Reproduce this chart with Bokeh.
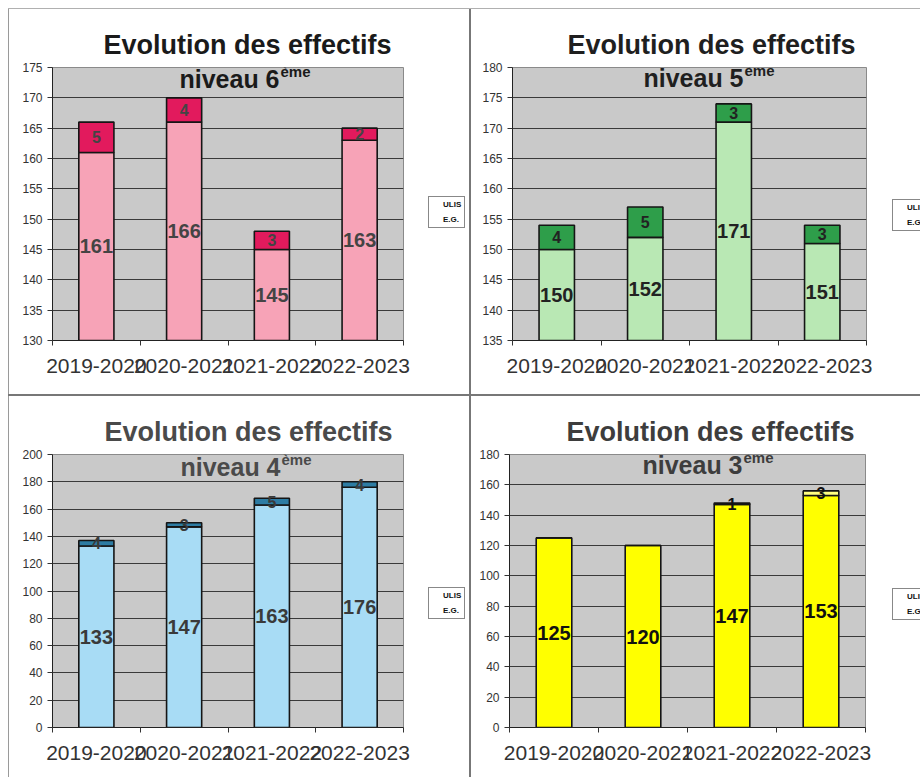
from bokeh.plotting import figure
from bokeh.models import (ColumnDataSource, Range1d, FixedTicker, LabelSet, Label,
                          Legend, LegendItem, Div, Title)
from bokeh.layouts import column, row
from bokeh.core.properties import value
from bokeh.embed import file_html
from bokeh.resources import INLINE

# ---------------- data ----------------
categories = ["2019-2020", "2020-2021", "2021-2022", "2022-2023"]
series_names = ["ULIS", "E.G."]

eg_6 = [161, 166, 145, 163]
ulis_6 = [5, 4, 3, 2]

eg_5 = [150, 152, 171, 151]
ulis_5 = [4, 5, 3, 3]

eg_4 = [133, 147, 163, 176]
ulis_4 = [4, 3, 5, 4]

eg_3 = [125, 120, 147, 153]
ulis_3 = [0, 0, 1, 3]

# y axis ticks (start, end, step)
yticks_6 = (130, 175, 5)
yticks_5 = (135, 180, 5)
yticks_4 = (0, 200, 20)
yticks_3 = (0, 180, 20)

FONT = "Liberation Sans"


def make_panel(niveau, eg, ulis, yticks, c_eg, c_ulis, width, height, borders,
               title_color, label_color, title_dx):
    y_start, y_end, y_step = yticks
    bl, br, bt, bb = borders
    n = len(categories)
    xs = [i + 1 for i in range(n)]
    p = figure(width=width, height=height, output_backend="svg", toolbar_location=None,
               tools="", x_range=Range1d(0.5, n + 0.5), y_range=Range1d(y_start, y_end),
               min_border_left=bl, min_border_right=br, min_border_top=bt,
               min_border_bottom=bb)
    p.background_fill_color = "#c9c9c9"
    p.border_fill_color = "white"
    p.outline_line_color = "#8a8a8a"

    fh = height - bt - bb

    p.title = Title(text="Evolution des effectifs", align="left",
                    offset=title_dx - 144, text_font=FONT, text_font_size="27px",
                    text_font_style="bold", text_color=title_color, standoff=15)

    src = ColumnDataSource(dict(
        x=xs, eg=eg, ulis=ulis,
        eg_mid=[(y_start + v) / 2 for v in eg],
        ulis_mid=[e + u / 2 for e, u in zip(eg, ulis)],
        eg_txt=[str(v) for v in eg],
        ulis_txt=[str(u) if u else "" for u in ulis],
    ))
    p.vbar_stack(["eg", "ulis"], x="x", width=0.4, fill_color=[c_eg, c_ulis],
                 line_color="#151515", line_width=1.6, source=src)

    yt = FixedTicker(ticks=list(range(y_start, y_end + 1, y_step)), minor_ticks=[])
    p.yaxis.ticker = yt
    p.ygrid.ticker = yt
    p.ygrid.grid_line_color = "#3a3a3a"
    p.ygrid.grid_line_width = 1
    p.xgrid.visible = False
    p.yaxis.axis_line_color = "#222"
    p.yaxis.major_tick_out = 5
    p.yaxis.major_tick_in = 0
    p.yaxis.major_tick_line_color = "#333"
    p.yaxis.minor_tick_line_color = None
    p.yaxis.major_label_text_font = FONT
    p.yaxis.major_label_text_font_size = "12px"
    p.yaxis.major_label_text_color = "#333"
    p.yaxis.major_label_standoff = 5

    xt = FixedTicker(ticks=xs, minor_ticks=[i + 0.5 for i in range(n + 1)])
    p.xaxis.ticker = xt
    p.xaxis.major_label_overrides = {x: c for x, c in zip(xs, categories)}
    p.xaxis.axis_line_color = "#222"
    p.xaxis.major_tick_line_color = None
    p.xaxis.major_tick_out = 0
    p.xaxis.major_tick_in = 0
    p.xaxis.minor_tick_out = 5
    p.xaxis.minor_tick_in = 0
    p.xaxis.minor_tick_line_color = "#333"
    p.xaxis.major_label_text_font = FONT
    p.xaxis.major_label_text_font_size = "21px"
    p.xaxis.major_label_text_color = "#333"
    p.xaxis.major_label_standoff = 13

    p.add_layout(LabelSet(x="x", y="eg_mid", text="eg_txt", source=src,
                          text_align="center", text_baseline="middle",
                          text_font=value(FONT), text_font_size="20px",
                          text_font_style="bold", text_color=label_color))
    p.add_layout(LabelSet(x="x", y="ulis_mid", text="ulis_txt", source=src,
                          text_align="center", text_baseline="middle",
                          text_font=value(FONT), text_font_size="16px",
                          text_font_style="bold", text_color=label_color))

    tx = title_dx
    p.add_layout(Label(x=tx + 32, y=fh - 13, x_units="screen", y_units="screen",
                       text="niveau " + niveau, text_align="right",
                       text_baseline="alphabetic", text_font=FONT,
                       text_font_size="25px", text_font_style="bold",
                       text_color=title_color))
    p.add_layout(Label(x=tx + 33, y=fh - 6, x_units="screen", y_units="screen",
                       text="ème", text_align="left",
                       text_baseline="alphabetic", text_font=FONT,
                       text_font_size="15px", text_font_style="bold",
                       text_color=title_color))
    return p


def make_legend_box(width, height, loc):
    f = figure(width=width, height=height, output_backend="svg", toolbar_location=None,
               tools="", x_range=Range1d(0, 1), y_range=Range1d(0, 1),
               x_axis_type=None, y_axis_type=None, min_border=0)
    f.grid.visible = False
    f.outline_line_color = None
    f.background_fill_color = "white"
    f.border_fill_color = "white"
    r_ulis = f.vbar(x=[], top=[], width=0.4, fill_color="#1a1a1a", line_color="#1a1a1a")
    r_eg = f.vbar(x=[], top=[], width=0.4, fill_color="#1a1a1a", line_color="#1a1a1a")
    legend = Legend(items=[LegendItem(label=series_names[0], renderers=[r_ulis]),
                           LegendItem(label=series_names[1], renderers=[r_eg])],
                    location=loc)
    legend.border_line_color = "#111"
    legend.border_line_width = 1
    legend.background_fill_color = "white"
    legend.background_fill_alpha = 1
    legend.label_text_font = FONT
    legend.label_text_font_size = "8px"
    legend.label_text_font_style = "bold"
    legend.label_text_color = "#111"
    legend.glyph_width = 7
    legend.glyph_height = 7
    legend.label_height = 9
    legend.label_width = 18
    legend.label_standoff = 4
    legend.padding = 3
    legend.spacing = 6
    legend.margin = 0
    f.add_layout(legend)
    return f


p1 = make_panel("6", eg_6, ulis_6, yticks_6, "#f7a3b7", "#e21a5d", 411, 385,
                (43, 17, 56, 54), "#1a1a1a", "#444", 195)
p2 = make_panel("5", eg_5, ulis_5, yticks_5, "#b9e8b4", "#2e9e4a", 409, 385,
                (41, 14, 58, 51), "#1f1f1f", "#222", 199)
p3 = make_panel("4", eg_4, ulis_4, yticks_4, "#a8dcf5", "#2d7ca3", 411, 381,
                (43, 17, 57, 50), "#4a4a4a", "#3a3a3a", 196)
p4 = make_panel("3", eg_3, ulis_3, yticks_3, "#ffff00", "#ffff80", 409, 381,
                (38, 15, 58, 47), "#3d3d3d", "#111", 201)

lf1 = make_legend_box(49, 385, (8, 112))
lf2 = make_legend_box(40, 385, (12, 109))
lf3 = make_legend_box(49, 381, (8, 108))
lf4 = make_legend_box(40, 381, (12, 107))


def line_div(w, h, color):
    return Div(text="", width=w, height=h, margin=0,
               styles={"background-color": color})


layout = column(
    line_div(920, 8, "white"),
    row(line_div(8, 1, "white"), line_div(912, 1, "#b0b0b0")),
    row(line_div(8, 385, "white"), line_div(1, 385, "#9a9a9a"), p1, lf1,
        line_div(2, 385, "#777"), p2, lf2),
    row(line_div(8, 2, "white"), line_div(912, 2, "#777")),
    row(line_div(8, 381, "white"), line_div(1, 381, "#9a9a9a"), p3, lf3,
        line_div(2, 381, "#777"), p4, lf4),
)

open("out.html", "w").write(file_html(layout, INLINE))
